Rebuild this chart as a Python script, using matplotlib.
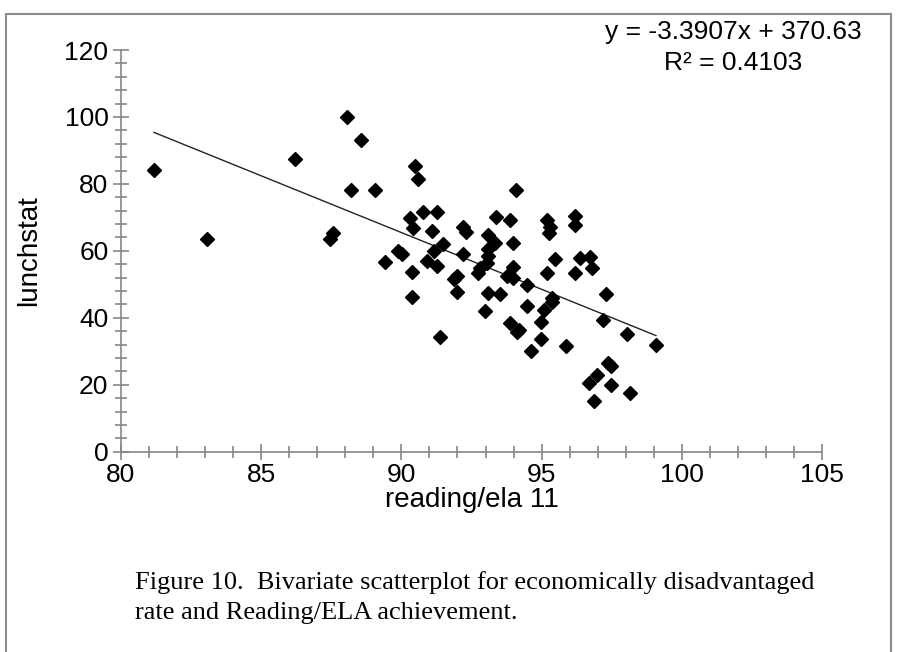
import matplotlib
matplotlib.use("Agg")
import matplotlib.pyplot as plt
from matplotlib.patches import Rectangle
from matplotlib.ticker import MultipleLocator
import numpy as np

# ── data ──
reading_ela = [81.18, 83.08, 86.20, 87.45, 87.57, 88.06, 88.21, 88.57, 89.06, 89.40,
               89.89, 90.01, 90.30, 90.40, 90.49, 90.59, 90.76, 90.90, 90.39, 90.39,
               91.08, 91.17, 91.27, 91.28, 91.38, 91.50, 91.88, 91.97, 91.99, 92.19,
               92.30, 92.19, 92.74, 92.80, 93.04, 93.08, 93.08, 93.08, 93.34, 93.36,
               93.08, 93.52, 92.99, 93.86, 93.99, 93.99, 93.75, 93.99, 94.10, 93.87,
               94.11, 94.20, 94.47, 94.47, 94.61, 94.97, 94.97, 95.10, 95.18, 95.30,
               95.27, 95.18, 95.48, 95.37, 95.36, 95.87, 96.19, 96.19, 96.19, 96.37,
               96.73, 96.80, 96.69, 96.88, 96.96, 97.20, 97.30, 97.38, 97.46, 97.47,
               98.06, 98.15, 99.08]
lunchstat = [84.1, 63.4, 87.3, 63.4, 65.4, 99.9, 78.1, 93.0, 78.1, 56.6,
             60.0, 59.0, 69.7, 66.9, 85.3, 81.4, 71.6, 57.0, 53.6, 46.3,
             65.8, 60.0, 71.6, 55.6, 34.3, 62.1, 51.6, 52.6, 47.8, 67.2,
             65.6, 59.0, 53.5, 54.8, 56.3, 58.4, 60.7, 64.7, 62.4, 70.1,
             47.5, 47.0, 42.0, 69.3, 62.2, 55.3, 52.6, 51.8, 78.2, 38.3,
             35.8, 36.5, 49.8, 43.5, 30.2, 38.6, 33.6, 42.3, 69.2, 67.2,
             65.4, 53.5, 57.6, 46.0, 44.8, 31.7, 70.4, 67.6, 53.3, 57.9,
             58.1, 55.0, 20.6, 15.2, 22.9, 39.3, 47.1, 26.4, 25.6, 19.8,
             35.2, 17.4, 32.0]

slope = -3.3907
intercept = 370.63
r_squared = 0.4103

x_ticks = [80, 85, 90, 95, 100, 105]
y_ticks = [0, 20, 40, 60, 80, 100, 120]

caption = ("Figure 10.  Bivariate scatterplot for economically disadvantaged\n"
           "rate and Reading/ELA achievement.")

# ── figure ──
W, H = 898, 652
fig = plt.figure(figsize=(W / 100, H / 100), dpi=100, facecolor="white")
plt.rcParams["font.family"] = ["Liberation Sans", "DejaVu Sans"]

ax = fig.add_axes([121 / W, 1 - 451.7 / H, (822 - 121) / W, (451.7 - 50) / H])

axis_grey = "#868686"

ax.plot(reading_ela, lunchstat, linestyle="none", marker="D", ms=7.4,
        color="black", zorder=3)

xs = np.array([min(reading_ela), max(reading_ela)])
ax.plot(xs, slope * xs + intercept, color="#222222", lw=1.0, zorder=2)

ax.set_xlim(x_ticks[0], x_ticks[-1])
ax.set_ylim(y_ticks[0], y_ticks[-1])
ax.set_xticks(x_ticks)
ax.set_yticks(y_ticks)
ax.xaxis.set_minor_locator(MultipleLocator(1))
ax.yaxis.set_minor_locator(MultipleLocator(4))

for side in ["top", "right"]:
    ax.spines[side].set_visible(False)
for side in ["left", "bottom"]:
    ax.spines[side].set_color(axis_grey)
    ax.spines[side].set_linewidth(1.2)

ax.tick_params(which="major", direction="inout", length=12, width=1.2,
               color=axis_grey, labelsize=19)
ax.tick_params(which="minor", direction="inout", length=9, width=1.2,
               color=axis_grey)
ax.tick_params(axis="x", pad=2)
ax.tick_params(axis="y", pad=3)

ax.set_xlabel("reading/ela 11", fontsize=20)
ax.set_ylabel("lunchstat", fontsize=20)
ax.xaxis.set_label_coords(0.5, -0.088)
ax.yaxis.set_label_coords(-0.113, 0.5)

ax.text((733 - 121) / 701, 1 + (50 - 47.5) / 401.7,
        f"y = {slope}x + {intercept}\nR² = {r_squared}",
        transform=ax.transAxes, ha="center", va="center", fontsize=19,
        linespacing=1.38)

fig.text(135 / W, 1 - 597.5 / H, caption, family="Liberation Serif",
         fontsize=19, ha="left", va="center", linespacing=1.42)

# grey frame around the whole picture
fig.add_artist(Rectangle((6 / W, -0.05), (891 - 6) / W, 1.05 - 14 / H,
                         transform=fig.transFigure, fill=False,
                         edgecolor="#8c8c8c", lw=1.5))

fig.savefig("out.png", dpi=100, facecolor=fig.get_facecolor())
